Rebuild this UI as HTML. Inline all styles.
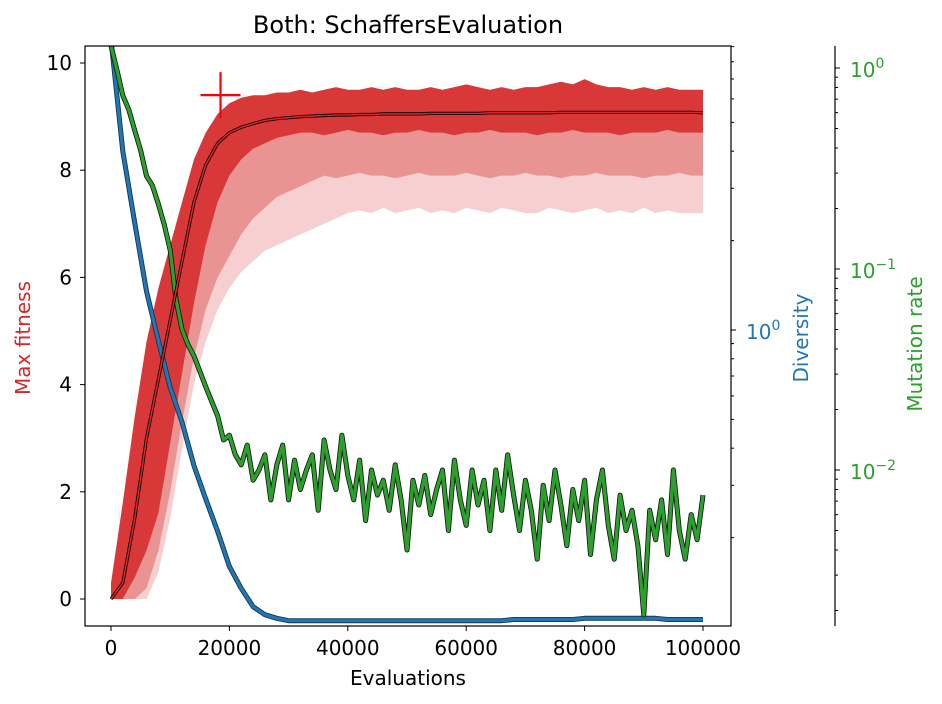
<!DOCTYPE html>
<html><head><meta charset="utf-8"><style>
html,body{margin:0;padding:0;background:#fff;}
svg{display:block;font-family:"DejaVu Sans","Liberation Sans",sans-serif;}
</style></head><body>
<svg id="chart" width="942" height="704" viewBox="0 0 942 704">
<defs><clipPath id="plotclip"><rect x="85" y="46" width="646" height="580"/></clipPath></defs>
<text x="408" y="33" font-size="24" text-anchor="middle" fill="#000">Both: SchaffersEvaluation</text>
<g id="plot" clip-path="url(#plotclip)"></g>
<g id="axes"></g>
<text x="408" y="685" font-size="20" text-anchor="middle">Evaluations</text>
<text transform="translate(30,338) rotate(-90)" font-size="20" text-anchor="middle" fill="#d62728">Max fitness</text>
<text transform="translate(808,338) rotate(-90)" font-size="20" text-anchor="middle" fill="#1f77b4">Diversity</text>
<text transform="translate(922,344) rotate(-90)" font-size="20" text-anchor="middle" fill="#2ca02c">Mutation rate</text>
</svg>
<script>
// evaluations sampled every 2000
const evals2k = [];
for (let i = 0; i <= 50; i++) evals2k.push(i * 2000);
const fitnessUpper = [0.3,1.8,3.4,4.8,5.8,6.6,7.4,8.2,8.7,9.05,9.25,9.35,9.4,9.4,9.45,9.45,9.5,9.45,9.5,9.55,9.5,9.5,9.55,9.5,9.55,9.5,9.5,9.55,9.5,9.55,9.6,9.55,9.5,9.55,9.5,9.55,9.55,9.6,9.65,9.6,9.7,9.6,9.55,9.55,9.5,9.55,9.5,9.55,9.5,9.5,9.5];
const fitnessCoreLo = [0,0,0.4,0.9,1.6,2.9,4.2,5.5,6.6,7.4,7.9,8.2,8.4,8.5,8.6,8.65,8.7,8.7,8.65,8.7,8.75,8.7,8.7,8.65,8.7,8.7,8.75,8.7,8.7,8.65,8.7,8.7,8.75,8.7,8.7,8.7,8.65,8.7,8.7,8.75,8.7,8.7,8.7,8.65,8.7,8.7,8.7,8.75,8.7,8.7,8.7];
const fitnessMidLo = [0,0,0,0.2,0.9,2.0,3.3,4.5,5.4,6.0,6.4,6.8,7.1,7.3,7.5,7.6,7.7,7.8,7.9,7.85,7.9,7.95,7.9,7.9,7.85,7.9,7.95,7.9,7.9,7.9,7.95,7.9,7.85,7.9,7.9,7.95,7.9,7.9,7.85,7.9,7.9,7.95,7.9,7.9,7.9,7.85,7.9,7.9,7.95,7.9,7.9];
const fitnessLow = [0,0,0,0,0.5,1.5,2.8,4.0,4.8,5.4,5.8,6.1,6.3,6.5,6.6,6.7,6.8,6.9,7.0,7.1,7.2,7.25,7.2,7.3,7.2,7.25,7.3,7.2,7.25,7.2,7.3,7.25,7.2,7.3,7.25,7.2,7.2,7.3,7.25,7.2,7.25,7.3,7.2,7.25,7.2,7.3,7.2,7.25,7.2,7.2,7.2];
const fitnessMean = [0,0.3,1.5,3.0,4.1,5.2,6.3,7.4,8.1,8.5,8.7,8.8,8.87,8.93,8.96,8.98,9.0,9.01,9.02,9.03,9.03,9.04,9.04,9.05,9.05,9.05,9.05,9.06,9.06,9.06,9.06,9.06,9.07,9.07,9.07,9.07,9.07,9.07,9.08,9.08,9.08,9.08,9.08,9.08,9.08,9.08,9.08,9.08,9.08,9.08,9.07];
const diversity = [9.5,4.0,2.3,1.35,0.92,0.64,0.49,0.35,0.27,0.21,0.16,0.135,0.117,0.11,0.107,0.105,0.105,0.105,0.105,0.105,0.105,0.105,0.105,0.105,0.105,0.105,0.105,0.105,0.105,0.105,0.105,0.105,0.105,0.105,0.106,0.106,0.106,0.106,0.106,0.106,0.107,0.107,0.107,0.107,0.107,0.107,0.107,0.106,0.106,0.106,0.106];
// mutation rate sampled every 1000
const evals1k = [];
for (let i = 0; i <= 100; i++) evals1k.push(i * 1000);
const mutation = [1.29,0.98,0.73,0.62,0.49,0.39,0.29,0.26,0.21,0.166,0.124,0.070,0.050,0.042,0.037,0.031,0.026,0.022,0.0186,0.0141,0.0149,0.0119,0.0106,0.0133,0.0089,0.0100,0.0119,0.0071,0.0106,0.0133,0.0071,0.0112,0.0080,0.0100,0.0119,0.0063,0.0141,0.0100,0.0080,0.0149,0.0094,0.0071,0.0112,0.0056,0.0100,0.0075,0.0089,0.0063,0.0106,0.0071,0.0040,0.0089,0.0067,0.0094,0.0060,0.0080,0.0100,0.0050,0.0112,0.0071,0.0053,0.0100,0.0067,0.0089,0.0050,0.0100,0.0063,0.0119,0.0075,0.0050,0.0089,0.0063,0.0036,0.0084,0.0056,0.0100,0.0067,0.0042,0.0080,0.0056,0.0089,0.0038,0.0071,0.0100,0.0053,0.0036,0.0075,0.0050,0.0063,0.0042,0.0019,0.0063,0.0045,0.0071,0.0038,0.0100,0.0050,0.0036,0.0060,0.0045,0.0075];
const bestPoint = [18500, 9.4];
const xTicks = [0,20000,40000,60000,80000,100000];
const yTicks = [0,2,4,6,8,10];

const NS = "http://www.w3.org/2000/svg";
const X = e => 111 + e * 0.00592;
const YF = f => 599 - f * 53.6;
const YD = v => 330 - Math.log10(v) * 297;
const YM = v => 68 - Math.log10(v) * 201;
const plot = document.getElementById('plot');
const axes = document.getElementById('axes');
function mk(tag, attrs, parent) {
  const el = document.createElementNS(NS, tag);
  for (const k in attrs) el.setAttribute(k, attrs[k]);
  parent.appendChild(el);
  return el;
}
function linePath(xs, ys, fy) {
  return xs.map((e, i) => (i ? 'L' : 'M') + X(e).toFixed(1) + ',' + fy(ys[i]).toFixed(1)).join('');
}
function bandPath(xs, hi, lo) {
  let d = xs.map((e, i) => (i ? 'L' : 'M') + X(e).toFixed(1) + ',' + YF(hi[i]).toFixed(1)).join('');
  for (let i = xs.length - 1; i >= 0; i--) d += 'L' + X(xs[i]).toFixed(1) + ',' + YF(lo[i]).toFixed(1);
  return d + 'Z';
}
let b3 = mk('path', {d: bandPath(evals2k, fitnessMidLo, fitnessLow), fill: '#d62728', 'fill-opacity': 0.22}, plot);


let b2 = mk('path', {d: bandPath(evals2k, fitnessCoreLo, fitnessMidLo), fill: '#d62728', 'fill-opacity': 0.5}, plot);


let b1 = mk('path', {d: bandPath(evals2k, fitnessUpper, fitnessCoreLo), fill: '#d62728', 'fill-opacity': 0.92}, plot);


mk('path', {d: linePath(evals2k, diversity, YD), fill: 'none', stroke: '#1a3550', 'stroke-width': 5, 'stroke-linejoin': 'round'}, plot);
let dl = mk('path', {d: linePath(evals2k, diversity, YD), fill: 'none', stroke: '#1f77b4', 'stroke-width': 3.2, 'stroke-linejoin': 'round'}, plot);


mk('path', {d: linePath(evals1k, mutation, YM), fill: 'none', stroke: '#111', 'stroke-width': 5, 'stroke-linejoin': 'round'}, plot);
let ml = mk('path', {d: linePath(evals1k, mutation, YM), fill: 'none', stroke: '#2ca02c', 'stroke-width': 3.4, 'stroke-linejoin': 'round'}, plot);


mk('path', {d: linePath(evals2k, fitnessMean, YF), fill: 'none', stroke: '#000', 'stroke-width': 3.2}, plot);
let fl = mk('path', {d: linePath(evals2k, fitnessMean, YF), fill: 'none', stroke: '#d62728', 'stroke-width': 1.6}, plot);


const bx = X(bestPoint[0]), by = YF(bestPoint[1]);
let bm = mk('path', {d: `M${bx-20},${by}H${bx+20}M${bx},${by-23}V${by+23}`, stroke: '#ff0000', 'stroke-width': 2.2, fill: 'none'}, plot);



mk('rect', {x: 85, y: 46, width: 646, height: 580, fill: 'none', stroke: '#000', 'stroke-width': 1.2}, axes);
mk('line', {x1: 835, y1: 46, x2: 835, y2: 626, stroke: '#000', 'stroke-width': 1.2}, axes);
xTicks.forEach(t => {
  mk('line', {x1: X(t), y1: 626, x2: X(t), y2: 631, stroke: '#000'}, axes);
  let tx = mk('text', {x: X(t), y: 655, 'font-size': 20, 'text-anchor': 'middle'}, axes);
  tx.textContent = t;
  
  
});
yTicks.forEach(t => {
  mk('line', {x1: 80, y1: YF(t), x2: 85, y2: YF(t), stroke: '#000'}, axes);
  let tx = mk('text', {x: 72, y: YF(t) + 7, 'font-size': 20, 'text-anchor': 'end'}, axes);
  tx.textContent = t;
  
  
});
function logTicks(fy, x0, color, labelX) {
  for (let d = -4; d <= 1; d++) {
    for (let m = 1; m <= 9; m++) {
      const v = m * Math.pow(10, d);
      const y = fy(v);
      if (y < 46 || y > 626) continue;
      mk('line', {x1: x0, y1: y, x2: x0 + (m === 1 ? 5 : 3), y2: y, stroke: '#000'}, axes);
      if (m === 1) {
        const t = mk('text', {x: labelX, y: y + 9, 'font-size': 20, fill: color}, axes);
        t.textContent = '10';
        
        
        const s = mk('tspan', {dy: -9, 'font-size': 14}, t);
        s.textContent = d === 0 ? '0' : '\u2212' + (-d);
      }
    }
  }
}
logTicks(YD, 731, '#1f77b4', 746);
logTicks(YM, 835, '#2ca02c', 850);
</script>
</body></html>
